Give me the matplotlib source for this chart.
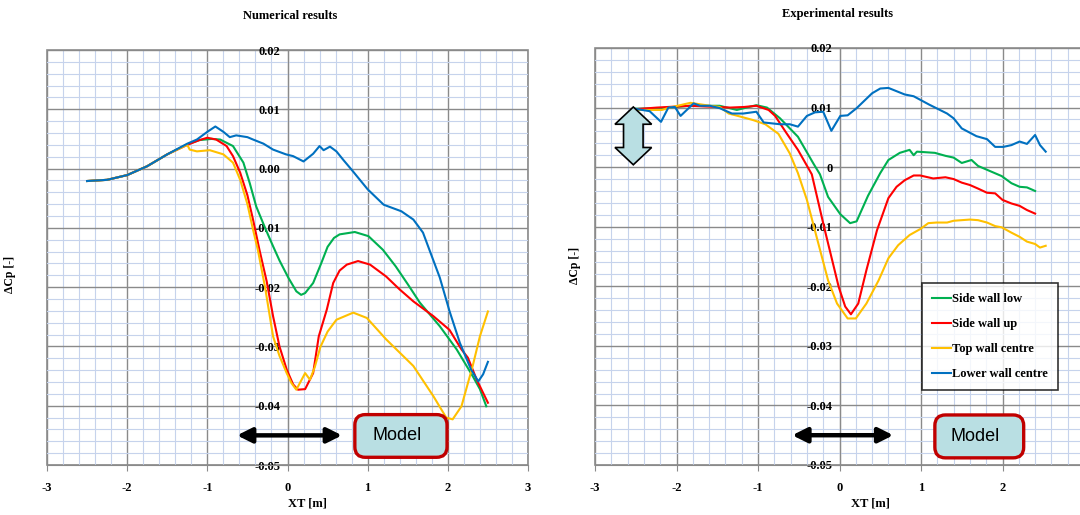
import matplotlib
matplotlib.use('Agg')
import matplotlib.pyplot as plt
import matplotlib.patches as mpatches
from matplotlib.ticker import MultipleLocator, FixedLocator

plt.rcParams['axes.unicode_minus'] = False

# ---- Numerical results (left panel) ----
num_green_x = [-2.5, -2.25, -2.0, -1.75, -1.5, -1.25, -1.1, -0.95, -0.84, -0.68, -0.55, -0.47, -0.39, -0.28,
               -0.18, -0.1, 0.01, 0.11, 0.17, 0.22, 0.32, 0.42, 0.5, 0.58, 0.65, 0.84, 1.01, 1.19, 1.35, 1.5,
               1.65, 1.9, 2.11, 2.31, 2.4, 2.48]
num_green_y = [-0.0021, -0.0019, -0.0011, 0.0004, 0.0024, 0.0041, 0.0048, 0.0050, 0.0049, 0.0038, 0.0010,
               -0.0025, -0.0064, -0.0100, -0.0131, -0.0155, -0.0184, -0.0207, -0.0213, -0.0210, -0.0193,
               -0.0160, -0.0132, -0.0117, -0.0111, -0.0107, -0.0114, -0.0137, -0.0165, -0.0195, -0.0226,
               -0.0266, -0.0305, -0.0350, -0.0372, -0.0401]

num_red_x = [-2.5, -2.25, -2.0, -1.75, -1.5, -1.25, -1.1, -1.0, -0.89, -0.76, -0.68, -0.59, -0.5, -0.43,
             -0.35, -0.26, -0.18, -0.1, -0.01, 0.07, 0.13, 0.22, 0.32, 0.39, 0.49, 0.57, 0.65, 0.74, 0.88,
             1.03, 1.23, 1.4, 1.57, 1.82, 2.02, 2.17, 2.25, 2.36, 2.5]
num_red_y = [-0.0021, -0.0019, -0.0011, 0.0004, 0.0024, 0.0040, 0.0048, 0.0052, 0.0049, 0.0038, 0.0021,
             -0.0007, -0.0045, -0.0086, -0.0137, -0.0190, -0.0249, -0.0300, -0.0339, -0.0364, -0.0373,
             -0.0372, -0.0345, -0.0283, -0.0238, -0.0193, -0.0172, -0.0162, -0.0156, -0.0162, -0.0182,
             -0.0204, -0.0224, -0.0249, -0.0272, -0.0305, -0.0319, -0.0356, -0.0395]

num_yellow_x = [-2.5, -2.25, -2.0, -1.75, -1.5, -1.25, -1.22, -1.13, -0.97, -0.8, -0.68, -0.59, -0.5, -0.43,
                -0.37, -0.28, -0.18, -0.1, -0.01, 0.05, 0.11, 0.22, 0.28, 0.34, 0.41, 0.5, 0.61, 0.82, 0.99,
                1.23, 1.57, 1.82, 1.98, 2.06, 2.17, 2.31, 2.4, 2.5]
num_yellow_y = [-0.0021, -0.0019, -0.0011, 0.0004, 0.0024, 0.0040, 0.0032, 0.0029, 0.0031, 0.0024, 0.0010,
                -0.0019, -0.0060, -0.0103, -0.0137, -0.0200, -0.0283, -0.0316, -0.0345, -0.0362, -0.0373,
                -0.0345, -0.0356, -0.0335, -0.0301, -0.0275, -0.0255, -0.0243, -0.0252, -0.0288, -0.0333,
                -0.0384, -0.0420, -0.0423, -0.0401, -0.0333, -0.0283, -0.0241]

num_blue_x = [-2.5, -2.25, -2.0, -1.75, -1.5, -1.25, -1.13, -1.0, -0.9, -0.8, -0.72, -0.64, -0.5, -0.43, -0.3,
              -0.18, -0.1, -0.02, 0.07, 0.2, 0.32, 0.4, 0.45, 0.53, 0.61, 0.7, 0.8, 1.0, 1.2, 1.42, 1.57, 1.69,
              1.77, 1.9, 2.02, 2.15, 2.29, 2.38, 2.44, 2.5]
num_blue_y = [-0.0021, -0.0019, -0.0011, 0.0004, 0.0024, 0.0042, 0.0049, 0.0062, 0.0071, 0.0062, 0.0053,
              0.0056, 0.0053, 0.0049, 0.0042, 0.0032, 0.0028, 0.0024, 0.0021, 0.0012, 0.0025, 0.0038, 0.0031,
              0.0037, 0.0029, 0.0014, -0.0002, -0.0035, -0.0061, -0.0072, -0.0086, -0.0108, -0.0137, -0.0184,
              -0.0240, -0.0294, -0.0339, -0.0359, -0.0347, -0.0326]

# ---- Experimental results (right panel) ----
exp_green_x = [-2.51, -2.2, -1.83, -1.47, -1.26, -1.02, -0.89, -0.73, -0.51, -0.32, -0.24, -0.14, 0.01, 0.13,
               0.21, 0.35, 0.5, 0.6, 0.74, 0.86, 0.91, 0.95, 1.17, 1.3, 1.4, 1.5, 1.62, 1.7, 1.99, 2.11, 2.21,
               2.3, 2.4]
exp_green_y = [0.0098, 0.0099, 0.0103, 0.0103, 0.0096, 0.0104, 0.0100, 0.0082, 0.0051, 0.0006, -0.0012,
               -0.0050, -0.0079, -0.0094, -0.0091, -0.0048, -0.0010, 0.0012, 0.0024, 0.0029, 0.0020, 0.0026,
               0.0024, 0.0019, 0.0016, 0.0007, 0.0012, 0.0002, -0.0015, -0.0027, -0.0033, -0.0034, -0.0040]

exp_red_x = [-2.53, -2.24, -1.83, -1.34, -1.17, -1.02, -0.87, -0.79, -0.65, -0.51, -0.34, -0.19, -0.01, 0.07,
             0.14, 0.23, 0.33, 0.46, 0.6, 0.7, 0.8, 0.91, 0.99, 1.15, 1.3, 1.4, 1.5, 1.6, 1.7, 1.81, 1.91, 2.0,
             2.11, 2.21, 2.3, 2.4]
exp_red_y = [0.0097, 0.0100, 0.0103, 0.0100, 0.0101, 0.0103, 0.0096, 0.0086, 0.0057, 0.0029, -0.0012, -0.0100,
             -0.0201, -0.0234, -0.0247, -0.0229, -0.0173, -0.0106, -0.0052, -0.0033, -0.0022, -0.0014, -0.0014,
             -0.0019, -0.0017, -0.0020, -0.0026, -0.0030, -0.0036, -0.0043, -0.0044, -0.0055, -0.0061, -0.0065,
             -0.0072, -0.0078]

exp_yellow_x = [-2.53, -2.18, -2.08, -1.83, -1.59, -1.47, -1.36, -1.22, -1.06, -0.91, -0.75, -0.61, -0.51,
                -0.4, -0.26, -0.14, -0.03, 0.1, 0.2, 0.33, 0.48, 0.6, 0.72, 0.86, 0.99, 1.09, 1.19, 1.32, 1.4,
                1.6, 1.7, 1.81, 1.91, 1.99, 2.11, 2.21, 2.3, 2.4, 2.46, 2.53]
exp_yellow_y = [0.0096, 0.0096, 0.0100, 0.0108, 0.0103, 0.0101, 0.0090, 0.0085, 0.0079, 0.0072, 0.0056,
                0.0023, -0.0010, -0.0055, -0.0128, -0.0190, -0.0229, -0.0254, -0.0254, -0.0229, -0.0190,
                -0.0153, -0.0131, -0.0114, -0.0104, -0.0094, -0.0093, -0.0093, -0.0090, -0.0088, -0.0089,
                -0.0093, -0.0099, -0.0101, -0.0110, -0.0117, -0.0125, -0.0129, -0.0135, -0.0132]

exp_blue_x = [-2.51, -2.33, -2.19, -2.1, -2.02, -1.95, -1.79, -1.71, -1.59, -1.47, -1.32, -1.18, -1.02, -0.93,
              -0.73, -0.61, -0.51, -0.4, -0.3, -0.2, -0.1, 0.01, 0.1, 0.21, 0.4, 0.5, 0.6, 0.8, 0.91, 1.1, 1.32,
              1.4, 1.5, 1.68, 1.81, 1.91, 2.01, 2.11, 2.21, 2.3, 2.4, 2.46, 2.53]
exp_blue_y = [0.0098, 0.0094, 0.0076, 0.0100, 0.0101, 0.0086, 0.0107, 0.0103, 0.0103, 0.0099, 0.0090, 0.0090,
              0.0093, 0.0075, 0.0072, 0.0072, 0.0068, 0.0086, 0.0092, 0.0093, 0.0061, 0.0086, 0.0087, 0.0099,
              0.0124, 0.0132, 0.0133, 0.0122, 0.0119, 0.0105, 0.0090, 0.0082, 0.0065, 0.0052, 0.0047, 0.0034,
              0.0034, 0.0037, 0.0043, 0.0039, 0.0054, 0.0037, 0.0026]

series_names = ['Side wall low', 'Side wall up', 'Top wall centre', 'Lower wall centre']
series_colors = ['#00b050', '#ff0000', '#ffc000', '#0070c0']

x_ticks = [-3, -2, -1, 0, 1, 2, 3]
left_xlabels = ['-3', '-2', '-1', '0', '1', '2', '3']
right_xlabels = ['-3', '-2', '-1', '0', '1', '2', '']   # "3" falls outside the picture
y_ticks = [0.02, 0.01, 0.0, -0.01, -0.02, -0.03, -0.04, -0.05]
left_ylabels = ['0.02', '0.01', '0.00', '-0.01', '-0.02', '-0.03', '-0.04', '-0.05']
right_ylabels = ['0.02', '0.01', '0', '-0.01', '-0.02', '-0.03', '-0.04', '-0.05']

SERIF = 'Liberation Serif'
BOX_FILL = '#b9dfe3'
BOX_EDGE = '#c00000'


def style_axes(ax, xlabels, ylabels):
    ax.set_xlim(-3, 3)
    ax.set_ylim(-0.05, 0.02)
    ax.xaxis.set_major_locator(FixedLocator(x_ticks))
    ax.yaxis.set_major_locator(FixedLocator(y_ticks))
    ax.xaxis.set_minor_locator(MultipleLocator(0.2))
    ax.yaxis.set_minor_locator(MultipleLocator(0.002))
    ax.set_yticklabels(ylabels)
    ax.set_xticklabels(xlabels)
    ax.grid(which='minor', color='#c6d3ec', lw=0.8)
    ax.grid(which='major', color='#8a8a8a', lw=1.0)
    ax.set_axisbelow(True)
    # value axis crosses at x = 0, category labels at the bottom
    ax.spines['left'].set_position(('data', 0))
    ax.spines['left'].set_color('#8a8a8a')
    ax.spines['bottom'].set_color('#8a8a8a')
    ax.spines['top'].set_visible(False)
    ax.spines['right'].set_visible(False)
    ax.patch.set_edgecolor('#8a8a8a')
    ax.patch.set_linewidth(1.2)
    ax.tick_params(which='minor', length=0)
    ax.tick_params(which='major', length=4, color='#8a8a8a', direction='out')
    ax.tick_params(axis='x', pad=8)
    ax.tick_params(axis='y', pad=1)
    for lab in ax.get_xticklabels() + ax.get_yticklabels():
        lab.set_fontfamily(SERIF)
        lab.set_fontweight('bold')
        lab.set_fontsize(9)


def model_box(ax, x0, x1, y0, y1):
    # aspect factor so the rounded corners look round in pixels
    bb = ax.get_position()
    fw, fh = ax.figure.get_size_inches()
    aspect = (0.07 / (bb.height * fh)) / (6.0 / (bb.width * fw))
    box = mpatches.FancyBboxPatch((x0, y0), x1 - x0, y1 - y0,
                                  boxstyle='round,pad=0,rounding_size=0.13',
                                  mutation_aspect=aspect, fc=BOX_FILL, ec=BOX_EDGE,
                                  lw=2.4, zorder=5)
    ax.add_patch(box)
    ax.text((x0 + x1) / 2 - 0.05, (y0 + y1) / 2, 'Model', ha='center', va='center',
            fontsize=13, family='Liberation Sans', zorder=6)


def h_arrow(ax, x0, x1, y):
    ax.annotate('', xy=(x1, y), xytext=(x0, y),
                arrowprops=dict(arrowstyle='<|-|>', lw=3.2, color='black',
                                mutation_scale=22, shrinkA=0, shrinkB=0), zorder=6)


fig = plt.figure(figsize=(10.8, 5.15), dpi=100)
ax1 = fig.add_axes([47 / 1080, 50 / 515, 481 / 1080, 415 / 515])
ax2 = fig.add_axes([595 / 1080, 50 / 515, 489 / 1080, 417 / 515])

num = [(num_green_x, num_green_y), (num_red_x, num_red_y),
       (num_yellow_x, num_yellow_y), (num_blue_x, num_blue_y)]
exp = [(exp_green_x, exp_green_y), (exp_red_x, exp_red_y),
       (exp_yellow_x, exp_yellow_y), (exp_blue_x, exp_blue_y)]

for (xs, ys), name, col in zip(num, series_names, series_colors):
    ax1.plot(xs, ys, color=col, lw=1.5, label=name, zorder=3)
for (xs, ys), name, col in zip(exp, series_names, series_colors):
    ax2.plot(xs, ys, color=col, lw=1.5, label=name, zorder=3)

style_axes(ax1, left_xlabels, left_ylabels)
style_axes(ax2, right_xlabels, right_ylabels)

# annotations
h_arrow(ax1, -0.63, 0.68, -0.045)
model_box(ax1, 0.84, 1.99, -0.0487, -0.0415)
h_arrow(ax2, -0.58, 0.66, -0.045)
model_box(ax2, 1.17, 2.26, -0.0488, -0.0416)

# vertical block arrow on the experimental panel
xc, hw, sw = -2.53, 0.225, 0.12
top, hb_top, hb_bot, bot = 0.0101, 0.0072, 0.0033, 0.0004
pts = [(xc, top), (xc + hw, hb_top), (xc + sw, hb_top), (xc + sw, hb_bot), (xc + hw, hb_bot),
       (xc, bot), (xc - hw, hb_bot), (xc - sw, hb_bot), (xc - sw, hb_top), (xc - hw, hb_top)]
ax2.add_patch(mpatches.Polygon(pts, closed=True, fc=BOX_FILL, ec='black', lw=1.2, zorder=5))

leg = ax2.legend(loc='upper left', bbox_to_anchor=(922 / 1080, 1 - 283 / 515),
                 bbox_transform=fig.transFigure, borderaxespad=0, frameon=True, fancybox=False,
                 handlelength=1.5, handletextpad=0.1, labelspacing=1.05, borderpad=0.8,
                 prop={'family': SERIF, 'weight': 'bold', 'size': 9})
leg.get_frame().set_edgecolor('black')
leg.get_frame().set_linewidth(1.2)
leg.set_zorder(7)

fig.text(290 / 1080, 1 - 16 / 515, 'Numerical results', ha='center', va='center',
         family=SERIF, weight='bold', fontsize=9)
fig.text(837 / 1080, 1 - 14 / 515, 'Experimental results', ha='center', va='center',
         family=SERIF, weight='bold', fontsize=9)
fig.text(10 / 1080, 1 - 274 / 515, 'ΔCp [-]', rotation=90, ha='center', va='center',
         family=SERIF, weight='bold', fontsize=8.5)
fig.text(575 / 1080, 1 - 265 / 515, 'ΔCp [-]', rotation=90, ha='center', va='center',
         family=SERIF, weight='bold', fontsize=8.5)
fig.text(307 / 1080, 1 - 503 / 515, 'XT [m]', ha='center', va='center',
         family=SERIF, weight='bold', fontsize=9)
fig.text(870 / 1080, 1 - 503 / 515, 'XT [m]', ha='center', va='center',
         family=SERIF, weight='bold', fontsize=9)

fig.savefig('out.png', dpi=100)
